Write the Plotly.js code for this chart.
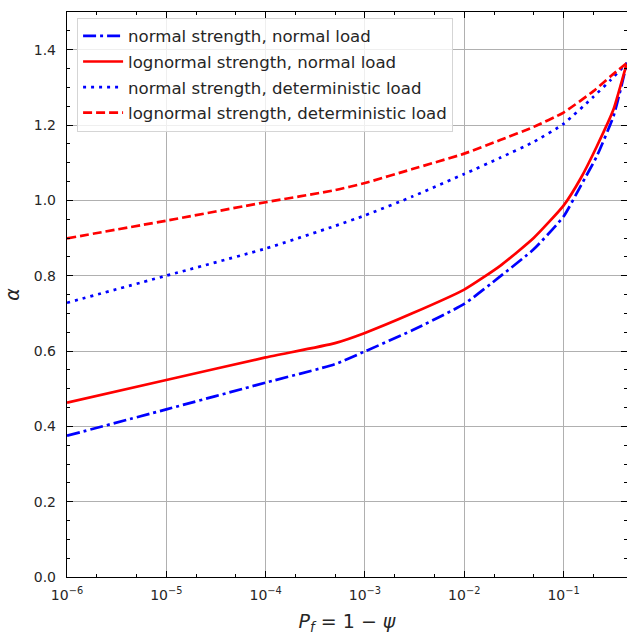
<!DOCTYPE html>
<html>
<head>
<meta charset="utf-8">
<script src="https://cdn.plot.ly/plotly-3.0.1.min.js"></script>
<style>html,body{margin:0;padding:0;background:#fff;}#chart{width:627px;height:635px;}</style>
</head>
<body>
<div id="chart"></div>
<script>
// Probability of failure values (x)
const pfNormalLoad = [1e-6, 1e-5, 1e-4, 5e-4, 1e-3, 3e-3, 1e-2, 2.3e-2, 5e-2, 0.1, 0.15, 0.216, 0.318, 0.38, 0.435];
const alphaNormalStrengthNormalLoad = [0.375, 0.445, 0.516, 0.565, 0.599, 0.655, 0.725, 0.798, 0.870, 0.957, 1.040, 1.117, 1.223, 1.300, 1.365];
const alphaLognormalStrengthNormalLoad = [0.463, 0.523, 0.583, 0.621, 0.648, 0.700, 0.763, 0.826, 0.900, 0.986, 1.060, 1.143, 1.241, 1.310, 1.365];

const pfDetLoad = [1e-6, 1e-5, 1e-4, 5e-4, 1e-3, 3e-3, 1e-2, 2.3e-2, 5e-2, 0.1, 0.2, 0.3, 0.435];
const alphaNormalStrengthDetLoad = [0.728, 0.800, 0.872, 0.932, 0.960, 1.010, 1.070, 1.113, 1.155, 1.203, 1.275, 1.320, 1.365];
const alphaLognormalStrengthDetLoad = [0.899, 0.946, 0.995, 1.027, 1.046, 1.083, 1.124, 1.160, 1.195, 1.233, 1.290, 1.330, 1.365];

const seriesNames = ["normal strength, normal load", "lognormal strength, normal load",
                     "normal strength, deterministic load", "lognormal strength, deterministic load"];
const xTickVals = [1e-6, 1e-5, 1e-4, 1e-3, 1e-2, 1e-1];
const xTickText = ["10<sup>−6</sup>", "10<sup>−5</sup>", "10<sup>−4</sup>", "10<sup>−3</sup>", "10<sup>−2</sup>", "10<sup>−1</sup>"];

const sm = 0.5;
const traces = [
  {x: pfNormalLoad, y: alphaNormalStrengthNormalLoad, name: seriesNames[0], legendgroup: "a", mode: "lines",
   line: {color: "#0000ff", width: 2.7, dash: "13px,4px,3px,4px", shape: "spline", smoothing: sm}},
  {x: pfNormalLoad, y: alphaLognormalStrengthNormalLoad, name: seriesNames[1], legendgroup: "b", mode: "lines",
   line: {color: "#ff0000", width: 2.7, shape: "spline", smoothing: sm}},
  {x: pfDetLoad, y: alphaNormalStrengthDetLoad, name: seriesNames[2], legendgroup: "c", mode: "lines",
   line: {color: "#0000ff", width: 2.7, dash: "3px,5px", shape: "spline", smoothing: sm}},
  {x: pfDetLoad, y: alphaLognormalStrengthDetLoad, name: seriesNames[3], legendgroup: "d", mode: "lines",
   line: {color: "#ff0000", width: 2.7, dash: "9px,4px", shape: "spline", smoothing: sm}}
];

const font = "DejaVu Sans, sans-serif";
const layout = {
  width: 627, height: 635,
  margin: {l: 67, r: 0, t: 12, b: 58, pad: 0},
  paper_bgcolor: "#fff", plot_bgcolor: "#fff",
  font: {family: font, size: 14, color: "#262626"},
  showlegend: true,
  legend: {x: 0.018, y: 0.99, xanchor: "left", yanchor: "top", traceorder: "grouped",
           bgcolor: "rgba(255,255,255,0.8)", bordercolor: "#d5d5d5", borderwidth: 1,
           itemwidth: 40, tracegroupgap: 1,
           font: {family: font, size: 16.6, color: "#262626"}},
  xaxis: {type: "log", range: [-6, -0.361], tickvals: xTickVals, ticktext: xTickText,
          ticks: "inside", ticklen: 6, tickwidth: 1, tickcolor: "#000", ticklabelstandoff: 5,
          showline: true, linecolor: "#000", linewidth: 1.2, mirror: "ticks",
          showgrid: true, gridcolor: "#b0b0b0", gridwidth: 1, zeroline: false,
          minor: {ticks: "inside", ticklen: 3, tickcolor: "#000", showgrid: false},
          tickfont: {family: font, size: 14, color: "#262626"},
          title: {text: "<i>P<sub>f</sub></i> = 1 − <i>ψ</i>", font: {family: font, size: 19, color: "#262626"}, standoff: 12}},
  yaxis: {range: [0, 1.5], dtick: 0.2, tick0: 0, tickformat: ".1f",
          ticks: "inside", ticklen: 6, tickwidth: 1, tickcolor: "#000", ticklabelstandoff: 7,
          showline: true, linecolor: "#000", linewidth: 1.2, mirror: "ticks",
          showgrid: true, gridcolor: "#b0b0b0", gridwidth: 1, zeroline: false,
          minor: {dtick: 0.05, ticks: "inside", ticklen: 3, tickcolor: "#000", showgrid: false},
          tickfont: {family: font, size: 14, color: "#262626"},
          title: {text: "<i>α</i>", font: {family: font, size: 19, color: "#262626"}, standoff: 9}}
};
Plotly.newPlot("chart", traces, layout, {displayModeBar: false, staticPlot: true});
</script>
</body>
</html>
